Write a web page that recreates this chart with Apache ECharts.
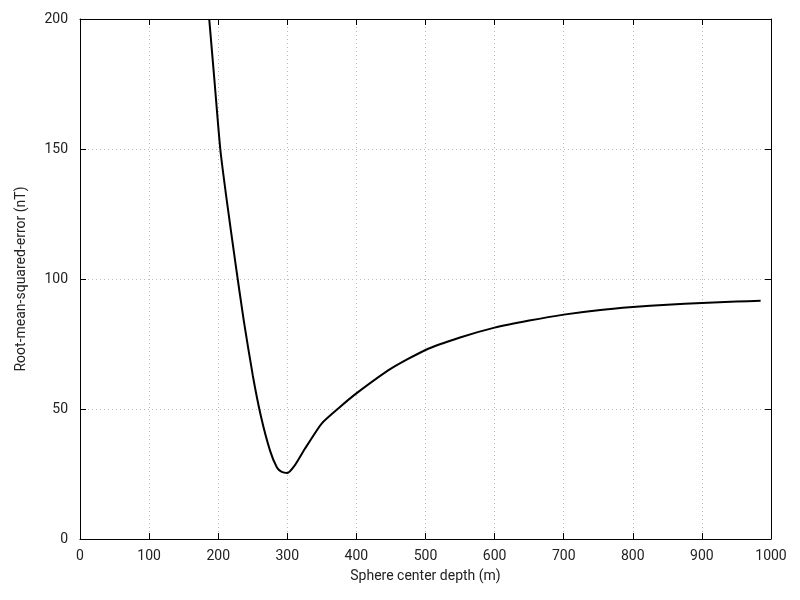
<!DOCTYPE html>
<html><head><meta charset="utf-8">
<script src="https://cdn.jsdelivr.net/npm/echarts@6/dist/echarts.min.js"></script>
<style>html,body{margin:0;background:#fff}#c{width:800px;height:600px}</style>
</head><body><div id="c"></div>
<script>
const depth = [187,195,203,212,225,237,250,262,275,285,292,300,310,325,350,375,400,450,500,550,600,650,700,750,800,850,900,950,985];
const rmse  = [200,175,150,131,106,84,63,47,34,27.5,25.8,25.4,28,34.5,44.5,50.5,56,65.5,72.7,77.5,81.3,84,86.3,88,89.2,90.1,90.8,91.3,91.6];
const font = 'Roboto';
const data = depth.map((d,i)=>[d,rmse[i]]);
const ax = {axisLine:{show:true,onZero:false,lineStyle:{color:'#000'}},axisTick:{inside:true,length:6,lineStyle:{color:'#000'}},
  splitLine:{show:false},axisLabel:{show:false}};
const chart = echarts.init(document.getElementById('c'));
chart.setOption({
  animation:false,
  grid:{left:80,right:29,top:19,bottom:61},
  xAxis:[{type:'value',min:0,max:1000,interval:100,position:'bottom',name:'Sphere center depth (m)',nameLocation:'middle',nameGap:30,
     nameTextStyle:{fontFamily:font,fontSize:14,color:'#222'},
     axisLine:{show:true,onZero:false,lineStyle:{color:'#000'}},axisTick:{inside:true,length:6,lineStyle:{color:'#000'}},
     axisLabel:{fontFamily:font,fontSize:14,color:'#222',margin:10,formatter:v=>String(v)},
     splitLine:{show:true,lineStyle:{type:[1,3],color:'#bbb'}}},
    Object.assign({type:'value',min:0,max:1000,interval:100,position:'top'},ax)],
  yAxis:[{type:'value',min:0,max:200,interval:50,position:'left',name:'Root-mean-squared-error (nT)',nameLocation:'middle',nameGap:52,
     nameTextStyle:{fontFamily:font,fontSize:14,color:'#222'},
     axisLine:{show:true,onZero:false,lineStyle:{color:'#000'}},axisTick:{inside:true,length:6,lineStyle:{color:'#000'}},
     axisLabel:{fontFamily:font,fontSize:14,color:'#222',margin:12},
     splitLine:{show:true,lineStyle:{type:[1,3],color:'#bbb'}}},
    Object.assign({type:'value',min:0,max:200,interval:50,position:'right'},ax)],
  series:[{type:'line',data:data,smooth:0.2,symbol:'none',clip:true,lineStyle:{color:'#000',width:2}}]
});
</script></body></html>
